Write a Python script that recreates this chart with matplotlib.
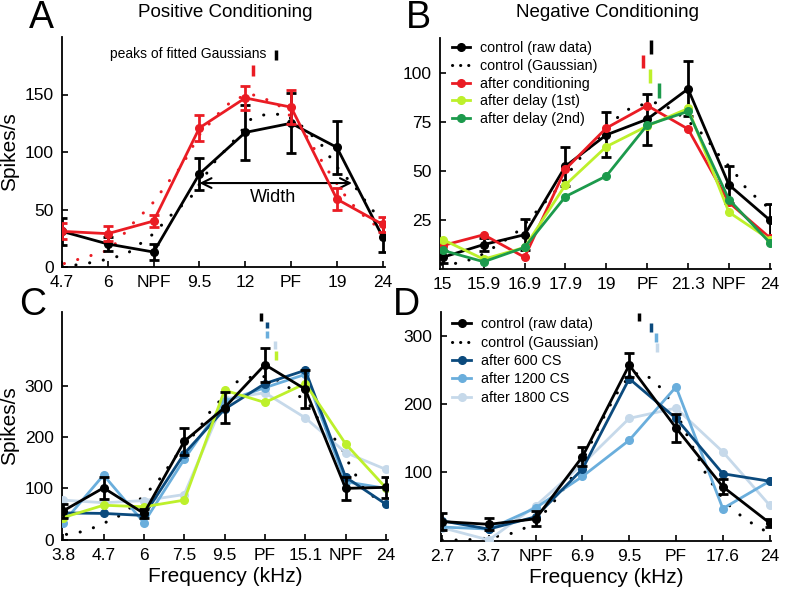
import numpy as np
import matplotlib
matplotlib.use('Agg')
import matplotlib.pyplot as plt
from matplotlib.lines import Line2D

plt.rcParams['font.family'] = ['Liberation Sans', 'DejaVu Sans']

# colours
RED = '#ea1c24'
LGREEN = '#bdf02b'
DGREEN = '#1c9a4c'
DBLUE = '#0b4a7d'
MBLUE = '#6aaedc'
LBLUE = '#c6d9ea'

# ---- panel A: positive conditioning ----
a_ticks = ['4.7', '6', 'NPF', '9.5', '12', 'PF', '19', '24']
a_ctrl = [31, 20, 13, 81, 117, 125, 104, 26]
a_ctrl_err = [12, 6, 7, 14, 24, 26, 23, 13]
a_cond = [31, 29, 40, 121, 147, 139, 59, 37]
a_cond_err = [7, 6.5, 5.5, 11.5, 10.5, 15, 9.5, 6.5]
a_gauss_ctrl_x = [0.0, 0.4, 0.9, 1.4, 2.0, 2.35, 2.8, 3.3, 3.8, 4.1, 4.35, 4.65, 4.9, 5.25, 5.65, 6.0, 6.45, 6.75, 7.0]
a_gauss_ctrl = [1, 2, 6, 11, 29, 44, 60, 90, 112, 128, 132, 133, 132, 122, 107, 87, 67, 50, 43]
a_gauss_cond_x = [0.05, 0.55, 1.05, 1.55, 1.95, 2.4, 2.6, 3.0, 3.45, 3.75, 4.15, 4.65, 4.9, 5.3, 5.75, 6.25, 6.75, 7.0]
a_gauss_cond = [3, 9, 15, 38, 54, 78, 87, 115, 135, 146, 150, 143, 135, 116, 87, 58, 38, 35]
a_peaks = [4.67, 4.17]
a_width = [3.0, 6.33]

# ---- panel B: negative conditioning ----
b_ticks = ['15', '15.9', '16.9', '17.9', '19', 'PF', '21.3', 'NPF', '24']
b_ctrl = [6, 12.5, 17.5, 52.5, 68.5, 76.5, 92, 43, 25]
b_ctrl_err = [3, 3.5, 8, 10, 11.5, 13, 14, 9.5, 8]
b_cond = [12, 17.5, 6, 51, 72, 83.5, 71.5, 34, 16]
b_delay1 = [15, 5, 11, 43, 62.5, 73, 82, 29, 15]
b_delay2 = [9.5, 3.7, 11, 37, 47.5, 73.5, 80.5, 35.5, 13.5]
b_gauss_x = [-0.03, 0.4, 0.85, 1.3, 1.75, 2.1, 2.45, 2.85, 3.25, 3.5, 3.8, 4.15, 4.45, 4.7, 5.0, 5.25, 5.6, 6.0, 6.4, 6.7, 7.15, 7.5, 7.75, 8.0]
b_gauss = [2.4, 3, 6, 11.7, 17.7, 25, 33, 42, 54, 60, 67, 75, 80.7, 83, 84.5, 85, 81.6, 75.6, 68, 59.5, 49, 39, 35.6, 30.5]
b_peaks = [5.09, 4.89, 5.06, 5.28]

# ---- panel C ----
c_ticks = ['3.8', '4.7', '6', '7.5', '9.5', 'PF', '15.1', 'NPF', '24']
c_ctrl = [56, 101, 51, 192, 258, 342, 294, 100, 102]
c_ctrl_err = [13, 22, 8, 27, 31, 33, 37, 23, 21]
c_600 = [52, 51, 47, 168, 255, 305, 331, 122, 69]
c_1200 = [33, 126, 33, 157, 270, 297, 323, 113, 100]
c_1800 = [77, 72, 76, 88, 275, 287, 238, 170, 137]
c_delay = [43, 67, 64, 77, 292, 268, 305, 187, 101]
c_gauss_x = [0.08, 0.37, 0.66, 0.95, 1.24, 1.5, 1.95, 2.15, 2.35, 2.65, 2.95, 3.35, 3.65, 3.88, 4.2, 4.55, 4.9, 5.28, 5.55, 6.1, 6.3, 6.9, 7.0, 7.15, 7.4, 7.67, 7.9]
c_gauss = [10, 13.5, 20, 30, 40, 51, 82, 98, 114, 147, 180, 215, 251, 271, 305, 316, 320, 313, 300, 264, 238, 180, 160, 140, 105, 85, 75]
c_peaks = [4.89, 5.06, 5.06, 5.24, 5.28]

# ---- panel D ----
d_ticks = ['2.7', '3.7', 'NPF', '6.9', '9.5', 'PF', '17.6', '24']
d_ctrl = [28, 24, 32, 123, 257, 165, 79, 26]
d_ctrl_err = [12, 9, 11, 14, 17, 21, 11, 6]
d_600 = [29, 17, 35, 105, 237, 179, 98, 87]
d_1200 = [20, 17, 48, 94, 147, 225, 47, 87]
d_1800 = [19, 1, 51, 112, 179, 194, 130, 52]
d_gauss_x = [0.0, 0.5, 1.0, 1.3, 1.5, 1.75, 2.05, 2.45, 2.8, 3.1, 3.3, 3.45, 3.7, 3.95, 4.2, 4.45, 4.65, 4.9, 5.35, 5.65, 5.9, 6.2, 6.45, 6.75, 7.0]
d_gauss = [1, 1, 4, 8, 11, 18, 30, 62, 95, 130, 160, 180, 212, 236, 246, 238, 225, 203, 138, 96, 70, 47, 33, 20, 11]
d_peaks = [4.21, 4.47, 4.57, 4.60]

W, H = 788, 600
fig = plt.figure(figsize=(W / 100, H / 100), dpi=100)

DOTS = (0, (0.05, 4.5))
DOTS_LEG = (0, (0.05, 2.6))


def px_axes(left, top, right, bottom):
    return fig.add_axes([left / W, 1 - bottom / H, (right - left) / W, (bottom - top) / H])


def style(ax, labels, xlim, ylim, yticks):
    ax.set_xlim(*xlim)
    ax.set_ylim(*ylim)
    ax.set_xticks(range(len(labels)))
    ax.set_xticklabels(labels)
    ax.set_yticks(yticks)
    for s in ['top', 'right']:
        ax.spines[s].set_visible(False)
    for s in ['left', 'bottom']:
        ax.spines[s].set_linewidth(1.3)
    ax.tick_params(direction='in', length=4, width=1.2, labelsize=12.5, pad=6)


def line(ax, y, color, z=3):
    ax.plot(range(len(y)), y, '-o', color=color, lw=2, ms=5.5, zorder=z)


def errline(ax, y, err, color, z=4):
    ax.errorbar(range(len(y)), y, yerr=err, fmt='-o', color=color, lw=2, ms=5.5,
                elinewidth=2, capsize=3.5, capthick=2, zorder=z)


def gauss(ax, x, y, color='k'):
    ax.plot(x, y, color=color, lw=2.2, ls=DOTS, dash_capstyle='round', zorder=2)


def peak(ax, x, y0, y1, color):
    ax.plot([x, x], [y0, y1], color=color, lw=2.5, solid_capstyle='butt')


def legend_handles(colors):
    hs = [Line2D([], [], color='k', marker='o', lw=2, ms=5.5),
          Line2D([], [], color='k', lw=2.2, ls=DOTS_LEG, dash_capstyle='round')]
    for c in colors:
        hs.append(Line2D([], [], color=c, marker='o', lw=2, ms=5.5))
    return hs


# A
axA = px_axes(62, 37, 385, 267)
style(axA, a_ticks, (0, 7.05), (0, 200), [0, 50, 100, 150])
gauss(axA, a_gauss_ctrl_x, a_gauss_ctrl)
gauss(axA, a_gauss_cond_x, a_gauss_cond, RED)
errline(axA, a_ctrl, a_ctrl_err, 'k', 3)
errline(axA, a_cond, a_cond_err, RED, 4)
peak(axA, a_peaks[0], 180, 189, 'k')
peak(axA, a_peaks[1], 166, 176, RED)
axA.text(a_peaks[0] - 0.2, 182, 'peaks of fitted Gaussians', fontsize=10, ha='right', va='baseline')
axA.annotate('', xy=(a_width[1], 73), xytext=(a_width[0], 73),
             arrowprops=dict(arrowstyle='<->,head_length=0.7,head_width=0.35', lw=1.5,
                             color='k', shrinkA=0, shrinkB=0))
axA.text(4.6, 60, 'Width', fontsize=13, ha='center', va='center')
axA.set_ylabel('Spikes/s', fontsize=15, labelpad=4)

# B
axB = px_axes(440, 38, 771, 269)
style(axB, b_ticks, (-0.07, 8.03), (0, 118), [25, 50, 75, 100])
gauss(axB, b_gauss_x, b_gauss)
errline(axB, b_ctrl, b_ctrl_err, 'k', 3)
line(axB, b_cond, RED, 4)
line(axB, b_delay1, LGREEN, 5)
line(axB, b_delay2, DGREEN, 6)
peak(axB, b_peaks[0], 110, 117, 'k')
peak(axB, b_peaks[1], 102.5, 109.5, RED)
peak(axB, b_peaks[2], 95, 102, LGREEN)
peak(axB, b_peaks[3], 87.5, 95, DGREEN)
axB.legend(legend_handles([RED, LGREEN, DGREEN]),
           ['control (raw data)', 'control (Gaussian)', 'after conditioning',
            'after delay (1st)', 'after delay (2nd)'],
           loc='upper left', bbox_to_anchor=(0.035, 0.985), frameon=False, fontsize=10.3,
           handlelength=1.3, handletextpad=0.7, labelspacing=0.25, borderpad=0, borderaxespad=0)

# C
axC = px_axes(62, 312, 388, 539.5)
style(axC, c_ticks, (-0.03, 8.05), (0, 445), [0, 100, 200, 300])
gauss(axC, c_gauss_x, c_gauss)
line(axC, c_1800, LBLUE, 3)
line(axC, c_1200, MBLUE, 4)
line(axC, c_600, DBLUE, 5)
line(axC, c_delay, LGREEN, 6)
errline(axC, c_ctrl, c_ctrl_err, 'k', 7)
peak(axC, c_peaks[0], 427, 443, 'k')
peak(axC, c_peaks[1], 413, 426, DBLUE)
peak(axC, c_peaks[2], 395, 408, MBLUE)
peak(axC, c_peaks[3], 372, 389, LBLUE)
peak(axC, c_peaks[4], 352, 368, LGREEN)
axC.set_ylabel('Spikes/s', fontsize=15, labelpad=4)
axC.set_xlabel('Frequency (kHz)', fontsize=15, labelpad=3)

# D
axD = px_axes(440.7, 311.7, 771, 540.7)
style(axD, d_ticks, (-0.03, 7.03), (0, 335), [100, 200, 300])
gauss(axD, d_gauss_x, d_gauss)
line(axD, d_1800, LBLUE, 3)
line(axD, d_1200, MBLUE, 4)
line(axD, d_600, DBLUE, 5)
errline(axD, d_ctrl, d_ctrl_err, 'k', 6)
peak(axD, d_peaks[0], 321.5, 333, 'k')
peak(axD, d_peaks[1], 306, 318, DBLUE)
peak(axD, d_peaks[2], 291, 303.5, MBLUE)
peak(axD, d_peaks[3], 276.5, 289, LBLUE)
axD.legend(legend_handles([DBLUE, MBLUE, LBLUE]),
           ['control (raw data)', 'control (Gaussian)', 'after 600 CS',
            'after 1200 CS', 'after 1800 CS'],
           loc='upper left', bbox_to_anchor=(0.035, 0.975), frameon=False, fontsize=10.3,
           handlelength=1.3, handletextpad=0.7, labelspacing=0.3, borderpad=0, borderaxespad=0)
axD.set_xlabel('Frequency (kHz)', fontsize=15, labelpad=3)

# titles and panel letters
fig.text(225 / W, 1 - 17 / H, 'Positive Conditioning', fontsize=13.5, ha='center', va='baseline')
fig.text(607 / W, 1 - 17 / H, 'Negative Conditioning', fontsize=13.5, ha='center', va='baseline')
for letter, x, y in [('A', 29, 28), ('B', 406, 28), ('C', 19, 315), ('D', 393, 315)]:
    fig.text(x / W, 1 - y / H, letter, fontsize=27, ha='left', va='baseline')

fig.savefig('out.png', dpi=100)
